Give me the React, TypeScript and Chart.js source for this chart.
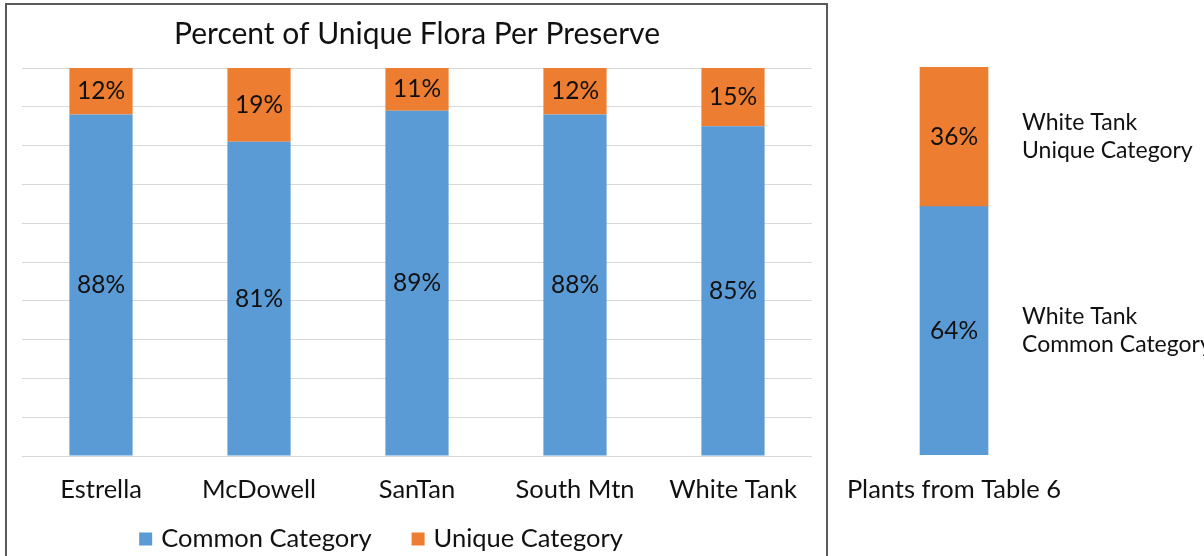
import React, { useEffect, useRef } from "react";
import { Chart, registerables } from "chart.js";

Chart.register(...registerables);

// ---------- data ----------
const chartTitle = "Percent of Unique Flora Per Preserve";
const preserves = ["Estrella", "McDowell", "SanTan", "South Mtn", "White Tank"];
const seriesNames = ["Common Category", "Unique Category"];
const commonPct = [88, 81, 89, 88, 85];
const uniquePct = [12, 19, 11, 12, 15];

const tableCategory = ["Plants from Table 6"];
const tableCommonPct = [64];
const tableUniquePct = [36];
const tableSeriesLines = [
  ["White Tank", "Common Category"],
  ["White Tank", "Unique Category"],
];

const yMin = 0;
const yMax = 100;
const yStep = 10;

// ---------- styles ----------
const BLUE = "#5B9BD5";
const ORANGE = "#ED7D31";
const GRID = "#D9D9D9";
const TEXT = "#111111";
const FONT = "Lato";

const valueLabels = {
  id: "valueLabels",
  afterDatasetsDraw(chart: any, _args: any, opts: any) {
    const { ctx } = chart;
    ctx.save();
    ctx.fillStyle = TEXT;
    chart.data.datasets.forEach((ds: any, di: number) => {
      const meta = chart.getDatasetMeta(di);
      meta.data.forEach((el: any, i: number) => {
        const { x, y, base, width } = el.getProps(["x", "y", "base", "width"], true);
        const cy = (y + base) / 2;
        ctx.font = `${opts.size}px ${FONT}`;
        ctx.textAlign = "center";
        ctx.textBaseline = "middle";
        ctx.fillText(ds.data[i] + "%", x, cy);
        if (opts.sideLines) {
          const lines: string[] = opts.sideLines[di];
          ctx.font = `${opts.sideSize}px ${FONT}`;
          ctx.textAlign = "left";
          const lh = opts.sideLineHeight;
          const x0 = x + width / 2 + opts.sideGap;
          lines.forEach((ln, k) => {
            ctx.fillText(ln, x0, cy + (k - (lines.length - 1) / 2) * lh);
          });
        }
      });
    });
    ctx.restore();
  },
};

// legend drawn below the axis labels, centred on a given x
const bottomLegend = {
  id: "bottomLegend",
  afterDraw(chart: any, _args: any, opts: any) {
    if (!opts || !opts.enabled) return;
    const { ctx } = chart;
    ctx.save();
    ctx.font = `${opts.size}px ${FONT}`;
    ctx.textBaseline = "middle";
    ctx.textAlign = "left";
    const items = chart.data.datasets.map((ds: any) => ({
      text: ds.label,
      color: ds.backgroundColor,
      w: opts.box + opts.boxGap + ctx.measureText(ds.label).width,
    }));
    const total =
      items.reduce((s: number, it: any) => s + it.w, 0) + opts.itemGap * (items.length - 1);
    let x = opts.centerX - total / 2;
    const cy = opts.y;
    items.forEach((it: any) => {
      ctx.fillStyle = it.color;
      ctx.fillRect(x, cy - opts.box / 2, opts.box, opts.box);
      ctx.fillStyle = TEXT;
      ctx.fillText(it.text, x + opts.box + opts.boxGap, cy);
      x += it.w + opts.itemGap;
    });
    ctx.restore();
  },
};

const xAxisFit = (s: any) => {
  s.paddingLeft = 0;
  s.paddingRight = 0;
  s.height = 56;
};

export default function App() {
  const leftRef = useRef<HTMLCanvasElement>(null);
  const rightRef = useRef<HTMLCanvasElement>(null);

  useEffect(() => {
    const left = new Chart(leftRef.current!, {
      type: "bar",
      data: {
        labels: preserves,
        datasets: [
          { label: seriesNames[0], data: commonPct, backgroundColor: BLUE },
          { label: seriesNames[1], data: uniquePct, backgroundColor: ORANGE },
        ],
      },
      options: {
        animation: false,
        responsive: false,
        maintainAspectRatio: false,
        events: [],
        datasets: { bar: { categoryPercentage: 1, barPercentage: 0.4 } },
        layout: { padding: { left: 22, right: 18, top: 0, bottom: 44 } },
        scales: {
          x: {
            stacked: true,
            grid: { display: false, drawTicks: false },
            border: { display: false },
            ticks: { color: TEXT, font: { family: FONT, size: 25.5 }, padding: 18 },
            afterFit: xAxisFit,
          },
          y: {
            stacked: true,
            min: yMin,
            max: yMax,
            ticks: { display: false, stepSize: yStep },
            grid: { color: GRID, drawTicks: false, lineWidth: 1 },
            border: { display: false },
            afterFit: (s: any) => { s.width = 0; },
          },
        },
        plugins: {
          title: {
            display: true,
            text: chartTitle,
            color: TEXT,
            font: { family: FONT, size: 30, weight: "normal" },
            padding: { top: 16, bottom: 16 },
          },
          legend: { display: false },
          tooltip: { enabled: false },
          valueLabels: { size: 24.5 },
          bottomLegend: {
            enabled: true,
            size: 25.5,
            box: 13,
            boxGap: 9,
            itemGap: 40,
            centerX: 381,
            y: 539,
          },
        } as any,
      },
      plugins: [valueLabels, bottomLegend],
    });

    const right = new Chart(rightRef.current!, {
      type: "bar",
      data: {
        labels: tableCategory,
        datasets: [
          { label: tableSeriesLines[0].join(" "), data: tableCommonPct, backgroundColor: BLUE },
          { label: tableSeriesLines[1].join(" "), data: tableUniquePct, backgroundColor: ORANGE },
        ],
      },
      options: {
        animation: false,
        responsive: false,
        maintainAspectRatio: false,
        events: [],
        datasets: { bar: { barThickness: 68 } },
        layout: { padding: { left: 50, right: 302, top: 67, bottom: 45 } },
        scales: {
          x: {
            stacked: true,
            grid: { display: false, drawTicks: false },
            border: { display: false },
            ticks: { color: TEXT, font: { family: FONT, size: 25.5 }, padding: 19 },
            afterFit: xAxisFit,
          },
          y: {
            stacked: true,
            display: false,
            min: yMin,
            max: yMax,
          },
        },
        plugins: {
          legend: { display: false },
          title: { display: false },
          tooltip: { enabled: false },
          valueLabels: {
            size: 24.5,
            sideLines: tableSeriesLines,
            sideSize: 23,
            sideGap: 34,
            sideLineHeight: 28,
          },
        } as any,
      },
      plugins: [valueLabels],
    });

    return () => {
      left.destroy();
      right.destroy();
    };
  }, []);

  return (
    <div
      style={{
        position: "fixed",
        left: 0,
        top: 0,
        width: 1204,
        height: 556,
        overflow: "hidden",
        background: "#ffffff",
      }}
    >
      <canvas
        ref={leftRef}
        width={830}
        height={556}
        style={{ position: "absolute", left: 0, top: 0, width: 830, height: 556 }}
      />
      <canvas
        ref={rightRef}
        width={500}
        height={556}
        style={{ position: "absolute", left: 830, top: 0, width: 500, height: 556 }}
      />
      <div
        style={{
          position: "absolute",
          left: 5,
          top: 3,
          width: 819,
          height: 620,
          border: "2px solid #595959",
          pointerEvents: "none",
        }}
      />
    </div>
  );
}
